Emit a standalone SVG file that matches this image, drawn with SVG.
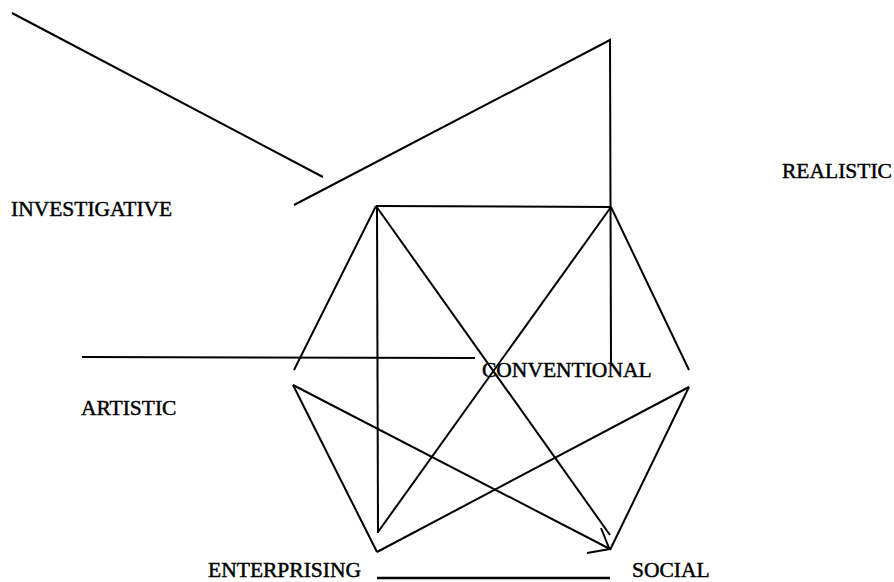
<svg xmlns="http://www.w3.org/2000/svg" width="894" height="582" viewBox="0 0 894 582">
  <style>
    .lbl { font-family: "Liberation Serif", "Times New Roman", serif; font-size: 21.5px; fill: #000; stroke: #000; stroke-width: 0.45; }
    .ln { stroke: #000; stroke-width: 2; fill: none; stroke-linecap: butt; }
  </style>
  <rect width="894" height="582" fill="#fff"/>

  <!-- connectors -->
  <g id="connectors" class="ln">
    <!-- lines off the top -->
    <line x1="12" y1="13" x2="323" y2="177"/>
    <polyline points="294,205 610,40 611,363"/>
    <line x1="82" y1="357" x2="475" y2="358"/>

    <!-- hexagon outline -->
    <line x1="376" y1="206" x2="611" y2="207"/>
    <line x1="376" y1="206" x2="294" y2="370"/>
    <line x1="293" y1="385" x2="377" y2="552"/>
    <line x1="611" y1="207" x2="689" y2="370"/>
    <line x1="689" y1="387" x2="610" y2="550"/>
    <line x1="377" y1="578" x2="610" y2="578" stroke-width="2.5"/>

    <!-- inner links -->
    <line x1="377" y1="206" x2="378" y2="533"/>
    <line x1="376" y1="206" x2="610" y2="535"/>
    <line x1="611" y1="207" x2="378" y2="532"/>
    <line x1="293" y1="385" x2="610" y2="549"/>
    <line x1="689" y1="387" x2="377" y2="552"/>

    <!-- open arrowhead at the lower right corner -->
    <line x1="601" y1="528" x2="609" y2="548"/>
    <line x1="587" y1="553" x2="610" y2="549"/>
  </g>

  <g id="investigative"><text class="lbl" x="11" y="216">INVESTIGATIVE</text></g>
  <g id="realistic"><text class="lbl" x="782" y="178">REALISTIC</text></g>
  <g id="artistic"><text class="lbl" x="81" y="415">ARTISTIC</text></g>
  <g id="conventional"><text class="lbl" x="482" y="377">CONVENTIONAL</text></g>
  <g id="enterprising"><text class="lbl" x="361" y="577" text-anchor="end">ENTERPRISING</text></g>
  <g id="social"><text class="lbl" x="632" y="577">SOCIAL</text></g>
</svg>
